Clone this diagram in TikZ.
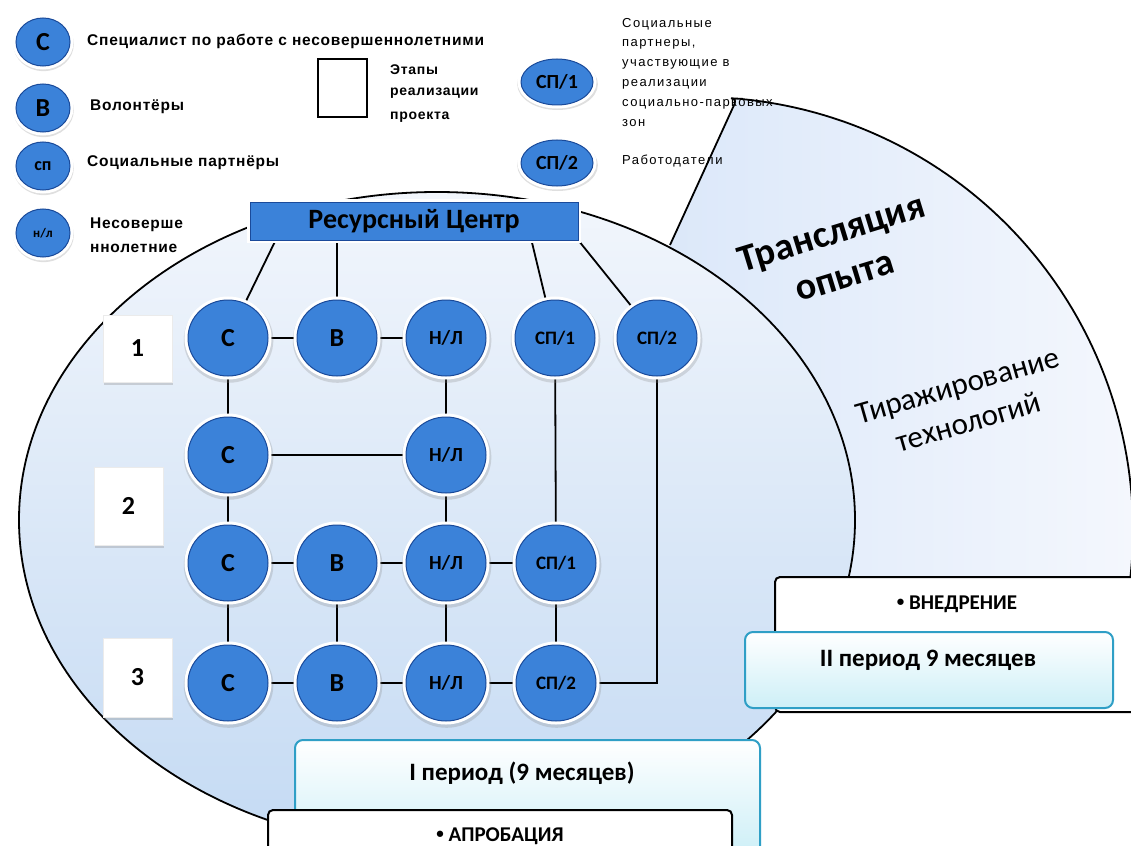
\documentclass[tikz,border=0pt]{standalone}
\usepackage{fontspec}
\setmainfont{Carlito}
\newfontfamily\legbold[LetterSpace=5]{Liberation Sans}
\newfontfamily\legreg[LetterSpace=11]{Liberation Sans}
\usetikzlibrary{shapes.geometric,shadows,calc}
\newcommand{\fsz}[1]{\fontsize{#1}{#1}\selectfont}
\newcommand{\smbul}{\raisebox{2.5pt}{\fsz{15}•}}
\definecolor{nodeblue}{HTML}{3B82D9}
\definecolor{nodeedge}{HTML}{1A4A9A}
\definecolor{ellTop}{HTML}{F2F6FC}
\definecolor{ellBot}{HTML}{C4DAF3}
\definecolor{fanL}{HTML}{DAE7F9}
\definecolor{fanR}{HTML}{F4F7FD}
\definecolor{perEdge}{HTML}{2F9FC6}
\definecolor{perBot}{HTML}{CDEFF7}
\pgfdeclarelayer{back}
\pgfdeclarelayer{mid}
\pgfsetlayers{back,mid,main}
\begin{document}
\begin{tikzpicture}[x=1pt,y=-1pt,
  conn/.style={draw=black, line width=1.8pt},
  circ/.style={ellipse, inner sep=0pt, fill=nodeblue, draw=nodeedge, line width=1pt,
    minimum width=80pt, minimum height=76pt, text=black,
    drop shadow={shadow xshift=0.5pt, shadow yshift=-2pt, shadow scale=1.12, opacity=0.25},
    preaction={draw=white, line width=7pt}},
  cbig/.style={circ, font=\bfseries\fsz{26}},
  cmid/.style={circ, font=\bfseries\fsz{20}},
  csm/.style={circ, font=\bfseries\fsz{19}},
  lcirc/.style={circ, minimum width=54pt, minimum height=48pt, preaction={draw=white, line width=6pt}},
  stepbox/.style={rectangle, fill=white, draw=black!8, minimum width=69pt,
    drop shadow={shadow xshift=1pt, shadow yshift=-3pt, opacity=0.3},
    font=\bfseries\fsz{26}},
  legb/.style={anchor=west, inner sep=0pt, font=\legbold\bfseries\fsz{15.5}},
  legs/.style={anchor=west, inner sep=0pt, font=\legbold\bfseries\fsz{14}},
  legr/.style={anchor=west, inner sep=0pt, font=\legreg\fsz{13}},
  perbox/.style={draw=perEdge, line width=2pt, rounded corners=8pt, top color=white, bottom color=perBot},
  stagebox/.style={draw=black, line width=2pt, rounded corners=5pt, fill=white},
  pertext/.style={font=\bfseries\fsz{25}, inner sep=0pt},
  stagetext/.style={font=\bfseries\fsz{21}, inner sep=0pt}
]
\useasboundingbox (0,0) rectangle (1131,845);

\begin{pgfonlayer}{back}
  \fill[white] (0,0) rectangle (1131,845);
  \shade[left color=fanL, right color=fanR] (670,245) -- (737,98.6)
     -- plot[domain=-85.1:24, samples=80] ({700+433*cos(\x)},{530+433*sin(\x)})
     -- (780,700) -- (640,520) -- cycle;
  \draw[line width=1.8pt, rounded corners=6pt] (670,245) -- (737,98.6)
     -- plot[domain=-85.1:24, samples=80] ({700+433*cos(\x)},{530+433*sin(\x)});
  \shade[top color=ellTop, bottom color=ellBot] (437,520) ellipse [x radius=418, y radius=328];
  \draw[line width=1.8pt] (437,520) ellipse [x radius=418, y radius=328];
\end{pgfonlayer}

% legend
\node[lcirc, font=\bfseries\fsz{26}] (lc) at (43,42) {С};
\node[lcirc, font=\bfseries\fsz{26}] (lb) at (43,108) {В};
\node[lcirc, font=\bfseries\fsz{18}] (lsp) at (43,166) {сп};
\node[lcirc, font=\bfseries\fsz{13}] (lnl) at (43,233) {н/л};
\node[legb] (tc) at (87,41) {Специалист по работе с несовершеннолетними};
\node[legb] (tb) at (90,107) {Волонтёры};
\node[legb] (tsp) at (87,163) {Социальные партнёры};
\node[legb] (tnl1) at (90,225) {Несоверше};
\node[legb] (tnl2) at (90,248) {ннолетние};
\draw[line width=2.5pt] (318,59) rectangle (367,117);
\node[legs] (te1) at (390,70) {Этапы};
\node[legs] (te2) at (390,93) {реализации};
\node[legs] (te3) at (390,117) {проекта};
\node[lcirc, minimum width=72pt, minimum height=46pt, font=\bfseries\fsz{20}] (lsp1) at (557,82) {СП/1};
\node[lcirc, minimum width=72pt, minimum height=46pt, font=\bfseries\fsz{20}] (lsp2) at (557,163) {СП/2};
\node[legr] (tr1) at (622,24) {Социальные};
\node[legr] (tr2) at (622,44) {партнеры,};
\node[legr] (tr3) at (622,64) {участвующие в};
\node[legr] (tr4) at (622,84) {реализации};
\node[legr] (tr5) at (622,104) {социально-парковых};
\node[legr] (tr6) at (622,123) {зон};
\node[legr] (tr7) at (622,161) {Работодатели};

% resource centre
\node[rectangle, fill=nodeblue, draw=nodeedge, line width=1pt, minimum width=328pt, minimum height=38pt,
  drop shadow={shadow xshift=1pt, shadow yshift=-3pt, opacity=0.3},
  preaction={draw=white, line width=6pt}, font=\bfseries\fsz{28}, inner sep=0pt] (rc) at (414,221) {Ресурсный Центр};

% stage numbers
\node[stepbox, minimum height=67pt] (s1) at (137.5,348.5) {1};
\node[stepbox, minimum height=78pt] (s2) at (128.5,506) {2};
\node[stepbox, minimum height=79pt] (s3) at (137.5,677.5) {3};

% circles
\node[cbig] (r1c) at (228,338) {С};
\node[cbig] (r1b) at (337,338) {В};
\node[cmid] (r1n) at (446,338) {Н/Л};
\node[csm] (r1s1) at (555,338) {СП/1};
\node[csm] (r1s2) at (657,338) {СП/2};
\node[cbig] (r2c) at (228,455) {С};
\node[cmid] (r2n) at (446,455) {Н/Л};
\node[cbig] (r3c) at (228,563) {С};
\node[cbig] (r3b) at (337,563) {В};
\node[cmid] (r3n) at (446,563) {Н/Л};
\node[csm] (r3s1) at (556,563) {СП/1};
\node[cbig] (r4c) at (228,683) {С};
\node[cbig] (r4b) at (337,683) {В};
\node[cmid] (r4n) at (446,683) {Н/Л};
\node[csm] (r4s2) at (556,683) {СП/2};

\begin{pgfonlayer}{mid}
  \draw[conn] ([xshift=26pt]rc.south west) -- (r1c);
  \draw[conn] (rc.south -| r1b) -- (r1b);
  \draw[conn] ([xshift=-47pt]rc.south east) -- (r1s1);
  \draw[conn] (rc.south east) -- (r1s2);
  \draw[conn] (r1c) -- (r1b);
  \draw[conn] (r1b) -- (r1n);
  \draw[conn] (r1c) -- (r2c);
  \draw[conn] (r1n) -- (r2n);
  \draw[conn] (r1s1) -- (r3s1);
  \draw[conn] (r1s2) |- (r4s2);
  \draw[conn] (r2c) -- (r2n);
  \draw[conn] (r2c) -- (r3c);
  \draw[conn] (r2n) -- (r3n);
  \draw[conn] (r3c) -- (r3b);
  \draw[conn] (r3b) -- (r3n);
  \draw[conn] (r3n) -- (r3s1);
  \draw[conn] (r3c) -- (r4c);
  \draw[conn] (r3b) -- (r4b);
  \draw[conn] (r3n) -- (r4n);
  \draw[conn] (r3s1) -- (r4s2);
  \draw[conn] (r4c) -- (r4b);
  \draw[conn] (r4b) -- (r4n);
  \draw[conn] (r4n) -- (r4s2);
\end{pgfonlayer}

% fan texts
\node[rotate=17, align=center, font=\bfseries\fontsize{38}{45}\selectfont, inner sep=0pt] (ttr) at (838,254) {Трансляция\\опыта};
\node[rotate=16, align=center, font=\fontsize{31}{38}\selectfont, inner sep=0pt] (ttz) at (963,404) {Тиражирование\\технологий};

% periods
\path[stagebox] (775,577) rectangle (1136,712);
\node[stagetext] (vn) at (957,604) {\smbul{} ВНЕДРЕНИЕ};
\path[perbox] (745,632) rectangle (1113,708);
\node[pertext] (p2) at (928,660) {II период 9 месяцев};
\path[perbox] (295,740) rectangle (760,855);
\node[pertext] (p1) at (522,773) {I период (9 месяцев)};
\path[stagebox] (268,810) rectangle (732,865);
\node[stagetext] (ap) at (500,836) {\smbul{} АПРОБАЦИЯ};
\end{tikzpicture}
\end{document}
